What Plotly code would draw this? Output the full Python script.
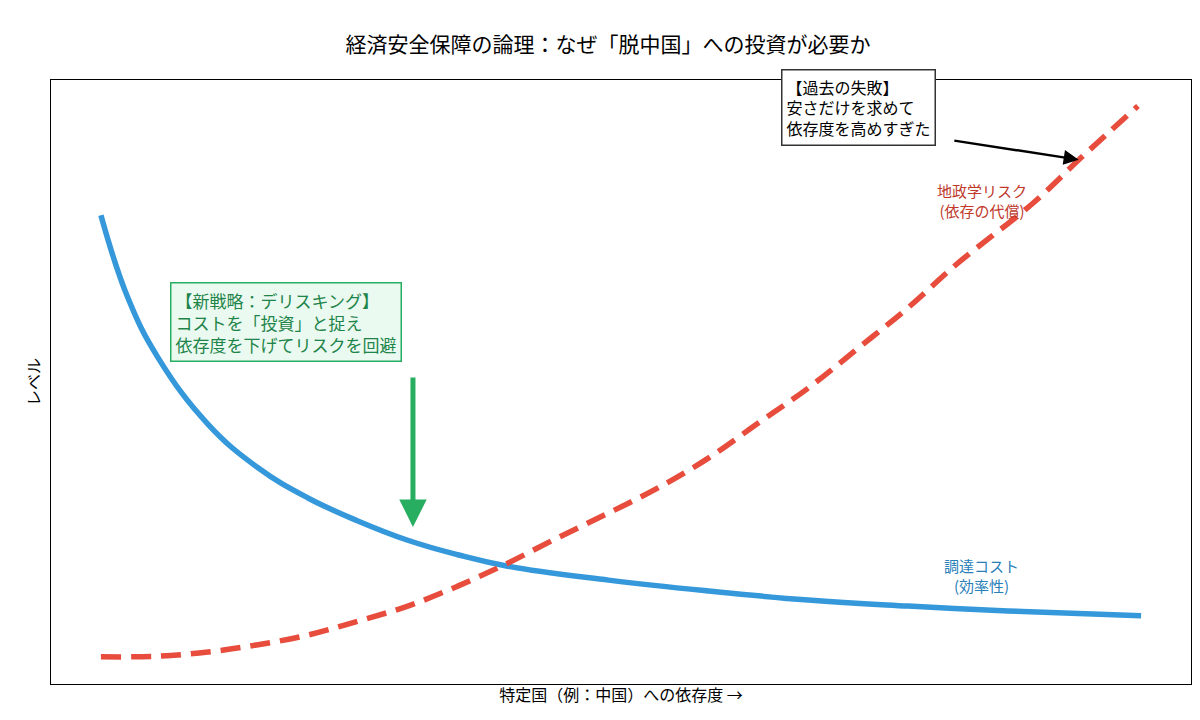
import plotly.graph_objects as go

# curve values (arbitrary level units, x = dependence 0..10)
cost_x = [0, 0.26, 0.55, 1.03, 1.51, 1.99, 2.47, 2.95, 3.43, 3.91, 4.88, 5.84, 6.80, 7.76, 8.72, 10]
cost_y = [7.76, 6.39, 5.40, 4.30, 3.58, 3.08, 2.70, 2.38, 2.14, 1.95, 1.72, 1.54, 1.39, 1.29, 1.21, 1.13]

risk_x = [0, 0.55, 1.03, 1.51, 1.99, 2.47, 2.95, 3.43, 3.91, 4.39, 4.88, 5.36, 5.84, 6.32, 6.80,
          7.28, 7.76, 8.24, 8.96, 9.44, 9.97]
risk_y = [0.45, 0.46, 0.53, 0.65, 0.81, 1.04, 1.29, 1.62, 2.00, 2.42, 2.83, 3.25, 3.74, 4.32, 4.90,
          5.56, 6.23, 6.97, 7.96, 8.74, 9.57]

font = "Noto Sans CJK JP"
fig = go.Figure()
fig.add_trace(go.Scatter(x=cost_x, y=cost_y, mode="lines",
                         line=dict(color="#3498db", width=5.5, shape="spline", smoothing=1.2)))
fig.add_trace(go.Scatter(x=risk_x, y=risk_y, mode="lines",
                         line=dict(color="#e74c3c", width=5.5, dash="20px,10px", shape="spline")))

fig.add_annotation(x=8.47, y=8.0, text="地政学リスク<br>(依存の代償)", showarrow=False,
                   font=dict(color="#c0392b", size=15))
fig.add_annotation(x=8.47, y=1.8, text="調達コスト<br>(効率性)", showarrow=False,
                   font=dict(color="#2980b9", size=15))

# new strategy box + arrow
fig.add_annotation(x=1.78, y=6.0, text="【新戦略：デリスキング】<br>コストを「投資」と捉え<br>依存度を下げてリスクを回避",
                   showarrow=False, align="left", bgcolor="#eafaf1", bordercolor="#27ae60", borderwidth=1.5,
                   borderpad=4, font=dict(color="#1e8449", size=17))
fig.add_annotation(x=3.0, y=2.6, ax=3.0, ay=5.1, xref="x", yref="y", axref="x", ayref="y",
                   showarrow=True, arrowhead=2, arrowsize=1.1, arrowwidth=5, arrowcolor="#27ae60", text="")

# past failure box + arrow
fig.add_annotation(x=7.28, y=9.55, text="【過去の失敗】<br>安さだけを求めて<br>依存度を高めすぎた",
                   showarrow=False, align="left", bgcolor="white", bordercolor="#333", borderwidth=1.5,
                   borderpad=4, font=dict(color="black", size=16))
fig.add_annotation(x=9.4, y=8.68, ax=8.19, ay=9.0, xref="x", yref="y", axref="x", ayref="y",
                   showarrow=True, arrowhead=2, arrowsize=1.2, arrowwidth=2.5, arrowcolor="black", text="")

fig.update_layout(
    width=1200, height=720, showlegend=False,
    title=dict(text="経済安全保障の論理：なぜ「脱中国」への投資が必要か", x=0.5, y=0.96, font=dict(size=21, color="black")),
    font=dict(family=font),
    plot_bgcolor="white", paper_bgcolor="white",
    margin=dict(l=43, r=17, t=72, b=44),
    xaxis=dict(range=[-0.48, 10.48], showticklabels=False, showgrid=False, zeroline=False, automargin=False,
               showline=True, mirror=True, linecolor="black", ticks="",
               title=dict(text="特定国（例：中国）への依存度 →", font=dict(size=16, color="black"), standoff=5)),
    yaxis=dict(range=[0, 10], showticklabels=False, showgrid=False, zeroline=False, automargin=False,
               showline=True, mirror=True, linecolor="black", ticks="",
               title=dict(text="レベル", font=dict(size=16, color="black"), standoff=5)),
)
fig.write_html("out.html")
